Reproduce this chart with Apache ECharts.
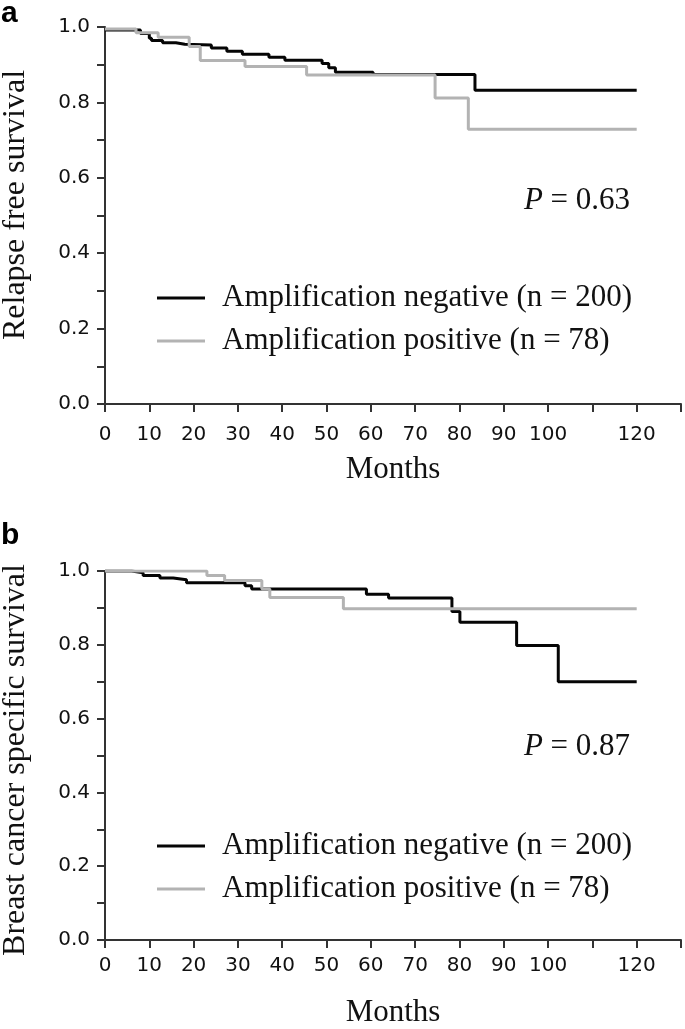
<!DOCTYPE html>
<html><head><meta charset="utf-8">
<script src="https://cdn.jsdelivr.net/npm/echarts@6/dist/echarts.min.js"></script>
<style>html,body{margin:0;padding:0;background:#fff}#c{width:685px;height:1029px}</style>
</head><body><div id="c"></div>
<script>
const xTickLabels = ['0','10','20','30','40','50','60','70','80','90','100','','120',''];
const yTickLabels = ['0.0','','0.2','','0.4','','0.6','','0.8','','1.0'];
const seriesNames = ['Amplification negative (n = 200)','Amplification positive (n = 78)'];
const pValues = ['0.63','0.87'];
const panelLetters = ['a','b'];
const yTitles = ['Relapse free survival','Breast cancer specific survival'];
const xTitle = 'Months';
// Panel a: relapse free survival
const negA_months = [0,8,10,10.5,13,16,18,24,27.5,31,37,40.6,49,50.5,52,60.5,83.5,120];
const negA_surv   = [0.992,0.983,0.970,0.964,0.958,0.954,0.952,0.944,0.936,0.928,0.920,0.912,0.903,0.892,0.880,0.874,0.832,0.832];
const posA_months = [0,7,12,19,21.5,31.6,45.5,74.5,82,120];
const posA_surv   = [0.995,0.985,0.973,0.948,0.911,0.895,0.873,0.812,0.729,0.729];
// Panel b: breast cancer specific survival
const negB_months = [0,6,8.6,12.4,15.4,18.4,31.6,33.1,59,64,78.3,80.1,92.9,102.3,120];
const negB_surv   = [1.0,0.995,0.988,0.981,0.976,0.968,0.960,0.951,0.937,0.927,0.890,0.861,0.798,0.700,0.700];
const posB_months = [0,23,27,35.4,37.2,53.8,120];
const posB_surv   = [1.0,0.988,0.974,0.951,0.928,0.898,0.898];

const pairs = (t, s) => t.map((v, i) => [v, s[i]]);
const AX = '#333';
const SERIF = '"Liberation Serif", "Times New Roman", serif';
const SANS = '"DejaVu Sans", sans-serif';

const grids = [
  {left: 105, right: 4, top: 27, height: 377},
  {left: 105, right: 4, top: 571, height: 375}
];
const labelMargins = [21, 16];
const nameGaps = [50, 57];
const xAxes = [0, 1].map(i => ({
  type: 'value', gridIndex: i, min: 0, max: 130, interval: 10,
  axisLine: {show: true, onZero: false, lineStyle: {color: AX, width: 2}},
  axisTick: {show: true, length: 8, lineStyle: {color: AX, width: 2}},
  splitLine: {show: false},
  axisLabel: {formatter: v => xTickLabels[Math.round(v / 10)] || '', fontFamily: SANS, fontSize: 20, color: '#111', margin: labelMargins[i]},
  name: xTitle, nameLocation: 'middle', nameGap: nameGaps[i],
  nameTextStyle: {fontFamily: SERIF, fontSize: 31, color: '#111'}
}));
const yAxes = [0, 1].map(i => ({
  type: 'value', gridIndex: i, min: 0, max: 1, interval: 0.1,
  axisLine: {show: true, onZero: false, lineStyle: {color: AX, width: 2}},
  axisTick: {show: true, length: 8, lineStyle: {color: AX, width: 2}},
  splitLine: {show: false},
  axisLabel: {formatter: v => yTickLabels[Math.round(v * 10)] || '', fontFamily: SANS, fontSize: 20, color: '#111', margin: 15}
}));
const mk = (name, data, gi, color) => ({
  name, type: 'line', step: 'end', xAxisIndex: gi, yAxisIndex: gi, data,
  showSymbol: false, symbol: 'none', color, itemStyle: {color},
  lineStyle: {color, width: 3}, silent: true, animation: false
});
const BLACK = '#050505', GRAY = '#b3b3b3';
const series = [
  mk(seriesNames[0], pairs(negA_months, negA_surv), 0, BLACK),
  mk(seriesNames[1], pairs(posA_months, posA_surv), 0, GRAY),
  mk(seriesNames[0], pairs(negB_months, negB_surv), 1, BLACK),
  mk(seriesNames[1], pairs(posB_months, posB_surv), 1, GRAY)
];
const legendTops = [282, 830];
const legends = legendTops.map(t => ({
  data: seriesNames, orient: 'vertical', left: 157, top: t, padding: 0,
  itemWidth: 48, itemHeight: 3, itemGap: 11, icon: 'rect', selectedMode: false,
  textStyle: {fontFamily: SERIF, fontSize: 31, color: '#111', lineHeight: 32, padding: [0, 0, 0, 12]}
}));
const pY = [201, 747];
const letterY = [14, 536];
const titleY = [205, 760];
const graphic = [];
[0, 1].forEach(i => {
  graphic.push({type: 'text', x: 577, y: pY[i], style: {
    text: '{p|P} = ' + pValues[i], fill: '#111', font: '31px ' + SERIF, align: 'center', verticalAlign: 'middle',
    rich: {p: {fontStyle: 'italic', fontFamily: SERIF, fontSize: 31, fill: '#111'}}
  }});
  graphic.push({type: 'text', x: 1, y: letterY[i], style: {
    text: panelLetters[i], fill: '#000', font: 'bold 30px "Liberation Sans", Arial, sans-serif', align: 'left', verticalAlign: 'middle'
  }});
  graphic.push({type: 'text', x: 16, y: titleY[i], rotation: Math.PI / 2, style: {
    text: yTitles[i], fill: '#111', font: '32px ' + SERIF, align: 'center', verticalAlign: 'middle'
  }});
});
const chart = echarts.init(document.getElementById('c'), null, {renderer: 'canvas'});
chart.setOption({
  animation: false, backgroundColor: '#fff',
  grid: grids, xAxis: xAxes, yAxis: yAxes, series, legend: legends, graphic
});
</script></body></html>
